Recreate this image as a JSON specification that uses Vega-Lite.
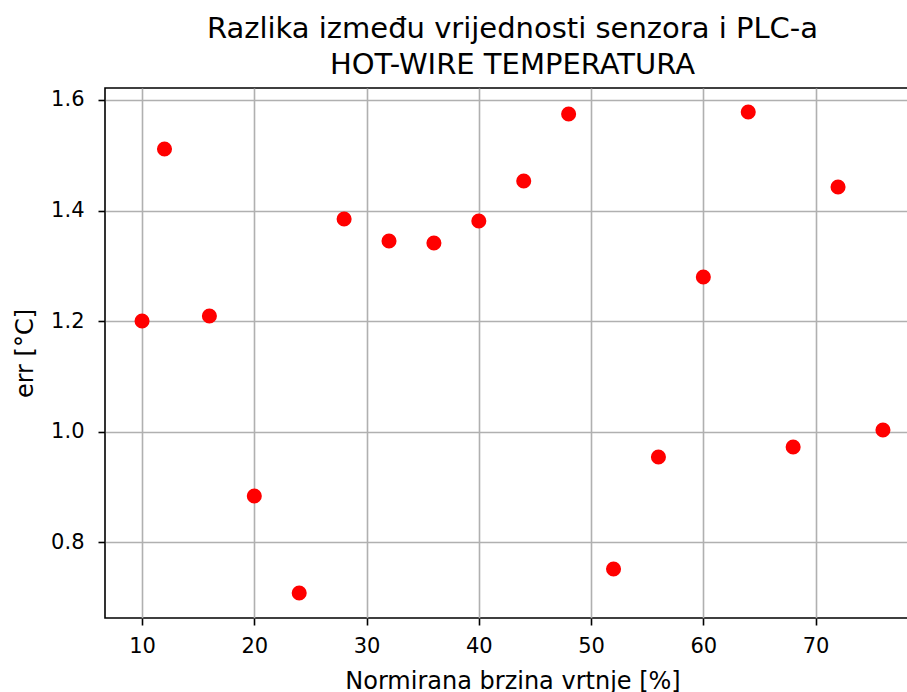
{
  "$schema": "https://vega.github.io/schema/vega-lite/v6.json",
  "autosize": "none",
  "padding": {"left": 105, "top": 88, "right": -13, "bottom": 74},
  "width": 815,
  "height": 530,
  "background": "white",
  "title": {
    "text": ["Razlika između vrijednosti senzora i PLC-a", "HOT-WIRE TEMPERATURA"],
    "font": "DejaVu Sans",
    "fontSize": 29,
    "fontWeight": "normal",
    "color": "black",
    "lineHeight": 36,
    "anchor": "middle",
    "offset": 8
  },
  "data": {
    "values": [
      {"brzina": 10, "err": 1.2004},
      {"brzina": 12, "err": 1.5113},
      {"brzina": 16, "err": 1.2094},
      {"brzina": 20, "err": 0.8841},
      {"brzina": 24, "err": 0.7087},
      {"brzina": 28, "err": 1.3848},
      {"brzina": 32, "err": 1.345},
      {"brzina": 36, "err": 1.3414},
      {"brzina": 40, "err": 1.3812},
      {"brzina": 44, "err": 1.4535},
      {"brzina": 48, "err": 1.5746},
      {"brzina": 52, "err": 0.7521},
      {"brzina": 56, "err": 0.9546},
      {"brzina": 60, "err": 1.2799},
      {"brzina": 64, "err": 1.5782},
      {"brzina": 68, "err": 0.9726},
      {"brzina": 72, "err": 1.4426},
      {"brzina": 76, "err": 1.0034}
    ]
  },
  "mark": {"type": "point", "filled": true, "shape": "circle", "size": 227, "color": "#ff0000", "opacity": 1, "strokeWidth": 0},
  "encoding": {
    "x": {
      "field": "brzina",
      "type": "quantitative",
      "scale": {"domain": [6.7, 79.3], "nice": false, "zero": false},
      "axis": {"values": [10, 20, 30, 40, 50, 60, 70], "title": "Normirana brzina vrtnje [%]", "titlePadding": 13, "labelPadding": 10}
    },
    "y": {
      "field": "err",
      "type": "quantitative",
      "scale": {"domain": [0.6635, 1.6216], "nice": false, "zero": false},
      "axis": {"values": [0.8, 1.0, 1.2, 1.4, 1.6], "format": ".1f", "title": "err [°C]", "titlePadding": 13, "labelPadding": 14}
    }
  },
  "config": {
    "font": "DejaVu Sans",
    "view": {"stroke": "black", "strokeWidth": 1.6},
    "axis": {
      "domain": false,
      "grid": true,
      "gridColor": "#b0b0b0",
      "gridWidth": 1.6,
      "ticks": true,
      "tickColor": "black",
      "tickWidth": 1.6,
      "tickSize": 7,
      "labelFont": "DejaVu Sans",
      "labelFontSize": 21,
      "labelColor": "#000000",
      "titleFont": "DejaVu Sans",
      "titleFontSize": 24,
      "titleFontWeight": "normal",
      "titleColor": "#000000",
      "labelFlush": false,
      "labelOverlap": false
    }
  }
}
